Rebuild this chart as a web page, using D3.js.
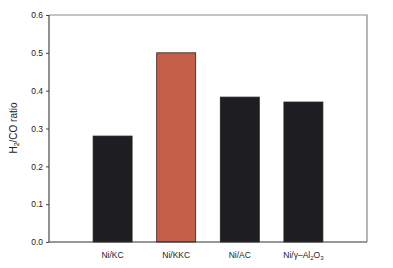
<!DOCTYPE html>
<html><head><meta charset="utf-8">
<script src="https://cdn.jsdelivr.net/npm/d3@7"></script>
<style>body{margin:0;background:#fff}svg{display:block;font-family:"Liberation Sans",Arial,sans-serif}</style>
</head><body><svg id="c" width="393" height="268"></svg>
<script>
const categories = ["Ni/KC", "Ni/KKC", "Ni/AC", "Ni/γ-Al2O3"];
const values = [0.28, 0.50, 0.383, 0.37];
const yTicks = [0.0, 0.1, 0.2, 0.3, 0.4, 0.5, 0.6];
const colors = ["#1e1e22", "#c4604a", "#1e1e22", "#1e1e22"];

const svg = d3.select("#c");
const L = 49, R = 367, T = 15, B = 242;
const x = d3.scaleLinear().domain([0, 5]).range([L, R]);
const y = d3.scaleLinear().domain([0, 0.6]).range([B, T]);
const bw = 39;

// frame top/right gray
svg.append("path").attr("d", `M${L},${T}H${R}V${B}`).attr("fill","none").attr("stroke","#8a8a8a").attr("stroke-width",1.2);

svg.selectAll("rect.bar").data(values).enter().append("rect")
  .attr("class","bar")
  .attr("x", (d,i)=>x(i+1)-bw/2)
  .attr("width", bw)
  .attr("y", d=>y(d))
  .attr("height", d=>y(0)-y(d))
  .attr("fill", (d,i)=>colors[i])
  .attr("stroke", "#222").attr("stroke-width", 0.8);

const ya = svg.append("g").attr("transform",`translate(${L},0)`)
  .call(d3.axisLeft(y).tickValues(yTicks).tickFormat(d3.format(".1f")).tickSize(3).tickPadding(3));
ya.select(".domain").attr("stroke","#222").attr("d",`M0,${T}V${B}`);
ya.selectAll(".tick line").attr("stroke","#444");
ya.selectAll("text").attr("font-size",8.5).attr("fill","#222").attr("font-family","Liberation Sans, Arial, sans-serif");

svg.append("line").attr("x1",L).attr("x2",R).attr("y1",B).attr("y2",B).attr("stroke","#333").attr("stroke-width",1);

const xl = svg.append("g").attr("font-size",8.5).attr("fill","#222").attr("text-anchor","middle");
categories.forEach((c,i)=>{
  const t = xl.append("text").attr("x", x(i+1)).attr("y", 258);
  if (c === "Ni/γ-Al2O3") {
    t.append("tspan").text("Ni/γ–Al");
    t.append("tspan").attr("font-size",6).attr("dy",2).text("2");
    t.append("tspan").attr("dy",-2).text("O");
    t.append("tspan").attr("font-size",6).attr("dy",2).text("3");
  } else t.text(c);
});

const yl = svg.append("text").attr("transform","translate(17,128) rotate(-90)")
  .attr("text-anchor","middle").attr("font-size",10).attr("fill","#222");
yl.append("tspan").text("H");
yl.append("tspan").attr("font-size",7).attr("dy",2).text("2");
yl.append("tspan").attr("dy",-2).text("/CO ratio");
</script></body></html>
